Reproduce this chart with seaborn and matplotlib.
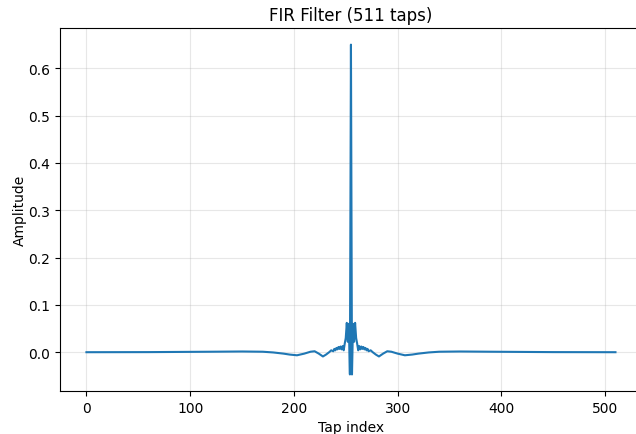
import matplotlib
matplotlib.use("Agg")
import matplotlib.pyplot as plt
import seaborn as sns

# tap indices (dense near the centre) and amplitudes
left_taps = [0, 60, 120, 150, 170, 180, 190, 196, 203, 210, 216, 220, 224, 228,
             231, 234, 236, 238, 239, 240, 241, 242, 243, 244, 245, 246, 247,
             248, 249, 250, 251, 252, 253, 254]
left_vals = [0.0, 0.0002, 0.001, 0.0015, 0.001, -0.0005, -0.003, -0.005, -0.0065,
             -0.003, 0.001, 0.002, -0.003, -0.009, -0.005, 0.0, 0.004, 0.002,
             0.007, 0.004, 0.009, 0.006, 0.011, 0.007, 0.012, 0.006, 0.013,
             0.004, 0.018, 0.03, 0.062, 0.022, 0.06, -0.047]
centre_tap = [255]
centre_val = [0.65]
right_taps = [256, 257, 258, 259, 260, 261, 262, 263, 264, 265, 266, 267, 268,
              269, 270, 271, 272, 274, 276, 279, 282, 286, 290, 294, 300, 307,
              314, 320, 330, 340, 360, 390, 450, 510]
right_vals = [-0.047, 0.06, 0.022, 0.062, 0.03, 0.018, 0.004, 0.013, 0.006,
              0.012, 0.007, 0.011, 0.006, 0.009, 0.004, 0.007, 0.002, 0.004,
              0.0, -0.005, -0.009, -0.003, 0.002, 0.001, -0.003, -0.0065,
              -0.005, -0.003, -0.0005, 0.001, 0.0015, 0.001, 0.0002, 0.0]

taps = left_taps + centre_tap + right_taps
amps = left_vals + centre_val + right_vals

fig = plt.figure(figsize=(6.36, 4.35), dpi=100)
# the original image is cropped on the right, so the axes run past the edge
ax = fig.add_axes([0.0943, 0.099, 0.915, 0.834])
sns.lineplot(x=taps, y=amps, ax=ax, color="#1f77b4", linewidth=1.5)
ax.set_title("FIR Filter (511 taps)")
ax.set_xlabel("Tap index")
ax.set_ylabel("Amplitude", labelpad=1)
ax.grid(alpha=0.3)
fig.savefig("out.png", dpi=100)
